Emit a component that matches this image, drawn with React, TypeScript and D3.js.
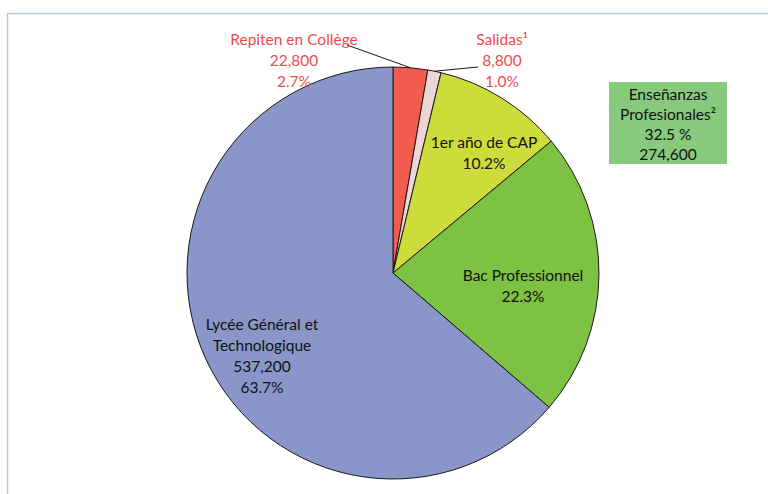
import React from "react";
import * as d3 from "d3";

const categories = ["Repiten en Collège", "Salidas¹", "1er año de CAP", "Bac Professionnel", "Lycée Général et Technologique"];
const values = [22800, 8800, 86000, 188600, 537200];
const percents = ["2.7%", "1.0%", "10.2%", "22.3%", "63.7%"];
const valueLabels = ["22,800", "8,800", "", "", "537,200"];
const colors = ["#F25C4F", "#EED5D5", "#CDDC3A", "#7DC242", "#8A96C9"];
const boxLines = ["Enseñanzas", "Profesionales²", "32.5 %", "274,600"];

export default function App() {
  const W = 768, H = 494;
  const cx = 393, cy = 273, r = 206;
  const pie = d3.pie<number>().sort(null).value((d) => d)(values);
  const arc = d3.arc<d3.PieArcDatum<number>>().innerRadius(0).outerRadius(r);
  const edge = (a: number, rr: number) => [cx + rr * Math.sin(a), cy - rr * Math.cos(a)];
  const font = "Lato, sans-serif";
  const fs = 15.5;
  const red = "#F04B4B";
  const mid = (i: number) => (pie[i].startAngle + pie[i].endAngle) / 2;
  const rep = edge(mid(0), r);
  const sal = edge(mid(1), r);
  return (
    <svg width={W} height={H} style={{ position: "absolute", left: 0, top: 0 }} fontFamily={font}>
      <rect x={0} y={0} width={W} height={H} fill="#fff" />
      <rect x={7.5} y={13.5} width={W + 20} height={H + 20} fill="none" stroke="#BCC7DA" strokeWidth={1.5} />
      <g transform={`translate(${cx},${cy})`}>
        {pie.map((d, i) => (
          <path key={i} d={arc(d) || ""} fill={colors[i]} stroke="#1a1a1a" strokeWidth={1} />
        ))}
      </g>
      <line x1={347} y1={45} x2={rep[0]} y2={rep[1]} stroke="#1a1a1a" strokeWidth={1} />
      <line x1={478} y1={67} x2={sal[0]} y2={sal[1]} stroke="#1a1a1a" strokeWidth={1} />
      <g fill={red} fontSize={fs} textAnchor="middle">
        <text x={294} y={45}>{categories[0]}</text>
        <text x={294} y={66}>{valueLabels[0]}</text>
        <text x={294} y={87}>{percents[0]}</text>
        <text x={502} y={45}>{categories[1]}</text>
        <text x={502} y={66}>{valueLabels[1]}</text>
        <text x={502} y={87}>{percents[1]}</text>
      </g>
      <g fill="#111" fontSize={fs} textAnchor="middle">
        <text x={484} y={148}>{categories[2]}</text>
        <text x={484} y={169}>{percents[2]}</text>
        <text x={523} y={281}>{categories[3]}</text>
        <text x={523} y={302}>{percents[3]}</text>
        <text x={262} y={330}>Lycée Général et</text>
        <text x={262} y={351}>Technologique</text>
        <text x={262} y={372}>{valueLabels[4]}</text>
        <text x={262} y={393}>{percents[4]}</text>
      </g>
      <rect x={609} y={82} width={118} height={82} fill="#88CA7D" />
      <g fill="#111" fontSize={fs} textAnchor="middle">
        {boxLines.map((t, i) => (
          <text key={i} x={668} y={100 + i * 20}>{t}</text>
        ))}
      </g>
    </svg>
  );
}
